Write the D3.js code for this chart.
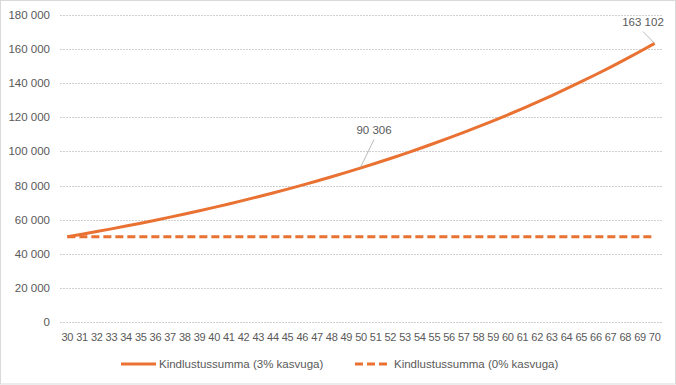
<!DOCTYPE html>
<meta charset="utf-8">
<script src="https://cdn.jsdelivr.net/npm/d3@7"></script>
<style>
  body { margin: 0; background: #fff; }
  text { font-family: "Liberation Sans", Arial, sans-serif; fill: #595959; }
</style>
<body>
<div id="viz"></div>
<script>
// ages on the x axis
const ages = d3.range(30, 71);
// insured sum with 3% growth per year
const grow3 = [50000, 51500, 53045, 54636, 56275, 57964, 59703, 61494, 63339, 65239,
  67196, 69212, 71288, 73427, 75629, 77898, 80235, 82642, 85122, 87675,
  90306, 93015, 95805, 98679, 101640, 104689, 107830, 111064, 114396, 117828,
  121363, 125004, 128754, 132617, 136595, 140693, 144914, 149261, 153739, 158351,
  163102];
// insured sum with no growth
const grow0 = ages.map(() => 50000);
const yTicks = [0, 20000, 40000, 60000, 80000, 100000, 120000, 140000, 160000, 180000];
const seriesNames = ["Kindlustussumma (3% kasvuga)", "Kindlustussumma (0% kasvuga)"];
const labelled = [50, 70]; // ages whose value is written on the chart

const width = 676, height = 385;
const orange = "#E97132";
const fmt = v => d3.format(",")(v).replace(/,/g, " ");

const svg = d3.select("#viz").append("svg")
  .attr("width", width).attr("height", height);

svg.append("rect")
  .attr("x", 0.5).attr("y", 0.5)
  .attr("width", width - 1).attr("height", height - 1.5)
  .attr("fill", "#fff").attr("stroke", "#d9d9d9");

const x = d3.scaleBand().domain(ages).range([60, 662]);
const y = d3.scaleLinear().domain([0, 180000]).range([322.3, 14.5]);
const cx = a => x(a) + x.bandwidth() / 2;

// gridlines
svg.append("g").selectAll("line").data(yTicks).join("line")
  .attr("x1", 60).attr("x2", 662)
  .attr("y1", d => Math.round(y(d)) + 0.5).attr("y2", d => Math.round(y(d)) + 0.5)
  .attr("stroke", "#d0d0d0").attr("stroke-dasharray", "2,1");

// y labels
svg.append("g").selectAll("text").data(yTicks).join("text")
  .attr("x", 50).attr("y", d => y(d) + 4)
  .attr("text-anchor", "end").attr("font-size", 11.5)
  .text(fmt);

// x labels
svg.append("g").selectAll("text").data(ages).join("text")
  .attr("x", cx).attr("y", 341)
  .attr("text-anchor", "middle").attr("font-size", 11)
  .attr("letter-spacing", -0.3)
  .text(d => d);

const line = d3.line().x((d, i) => cx(ages[i])).y(d => y(d));

svg.append("path").datum(grow0)
  .attr("d", line).attr("fill", "none")
  .attr("stroke", orange).attr("stroke-width", 3)
  .attr("stroke-dasharray", "8,4");

svg.append("path").datum(grow3)
  .attr("d", line).attr("fill", "none")
  .attr("stroke", orange).attr("stroke-width", 3)
  .attr("stroke-linejoin", "round");

// data labels with leader lines
const labelPos = { 50: [374, 130], 70: [643, 22] };
labelled.forEach(a => {
  const v = grow3[ages.indexOf(a)];
  const [tx, ty] = labelPos[a];
  svg.append("line")
    .attr("x1", tx).attr("y1", ty + 9.5)
    .attr("x2", cx(a) - 0.5).attr("y2", y(v) - 0.5)
    .attr("stroke", "#a6a6a6").attr("stroke-width", 0.8);
  svg.append("text")
    .attr("x", tx).attr("y", ty + 4)
    .attr("text-anchor", "middle").attr("font-size", 11.5)
    .text(fmt(v));
});

// legend
const legend = [
  { name: seriesNames[0], x1: 121, x2: 156, tx: 159, dash: null },
  { name: seriesNames[1], x1: 355, x2: 388, tx: 394, dash: "8,4" }
];
legend.forEach(l => {
  svg.append("line")
    .attr("x1", l.x1).attr("x2", l.x2).attr("y1", 364).attr("y2", 364)
    .attr("stroke", orange).attr("stroke-width", 3)
    .attr("stroke-dasharray", l.dash);
  svg.append("text")
    .attr("x", l.tx).attr("y", 368)
    .attr("font-size", 11.5)
    .text(l.name);
});
</script>
